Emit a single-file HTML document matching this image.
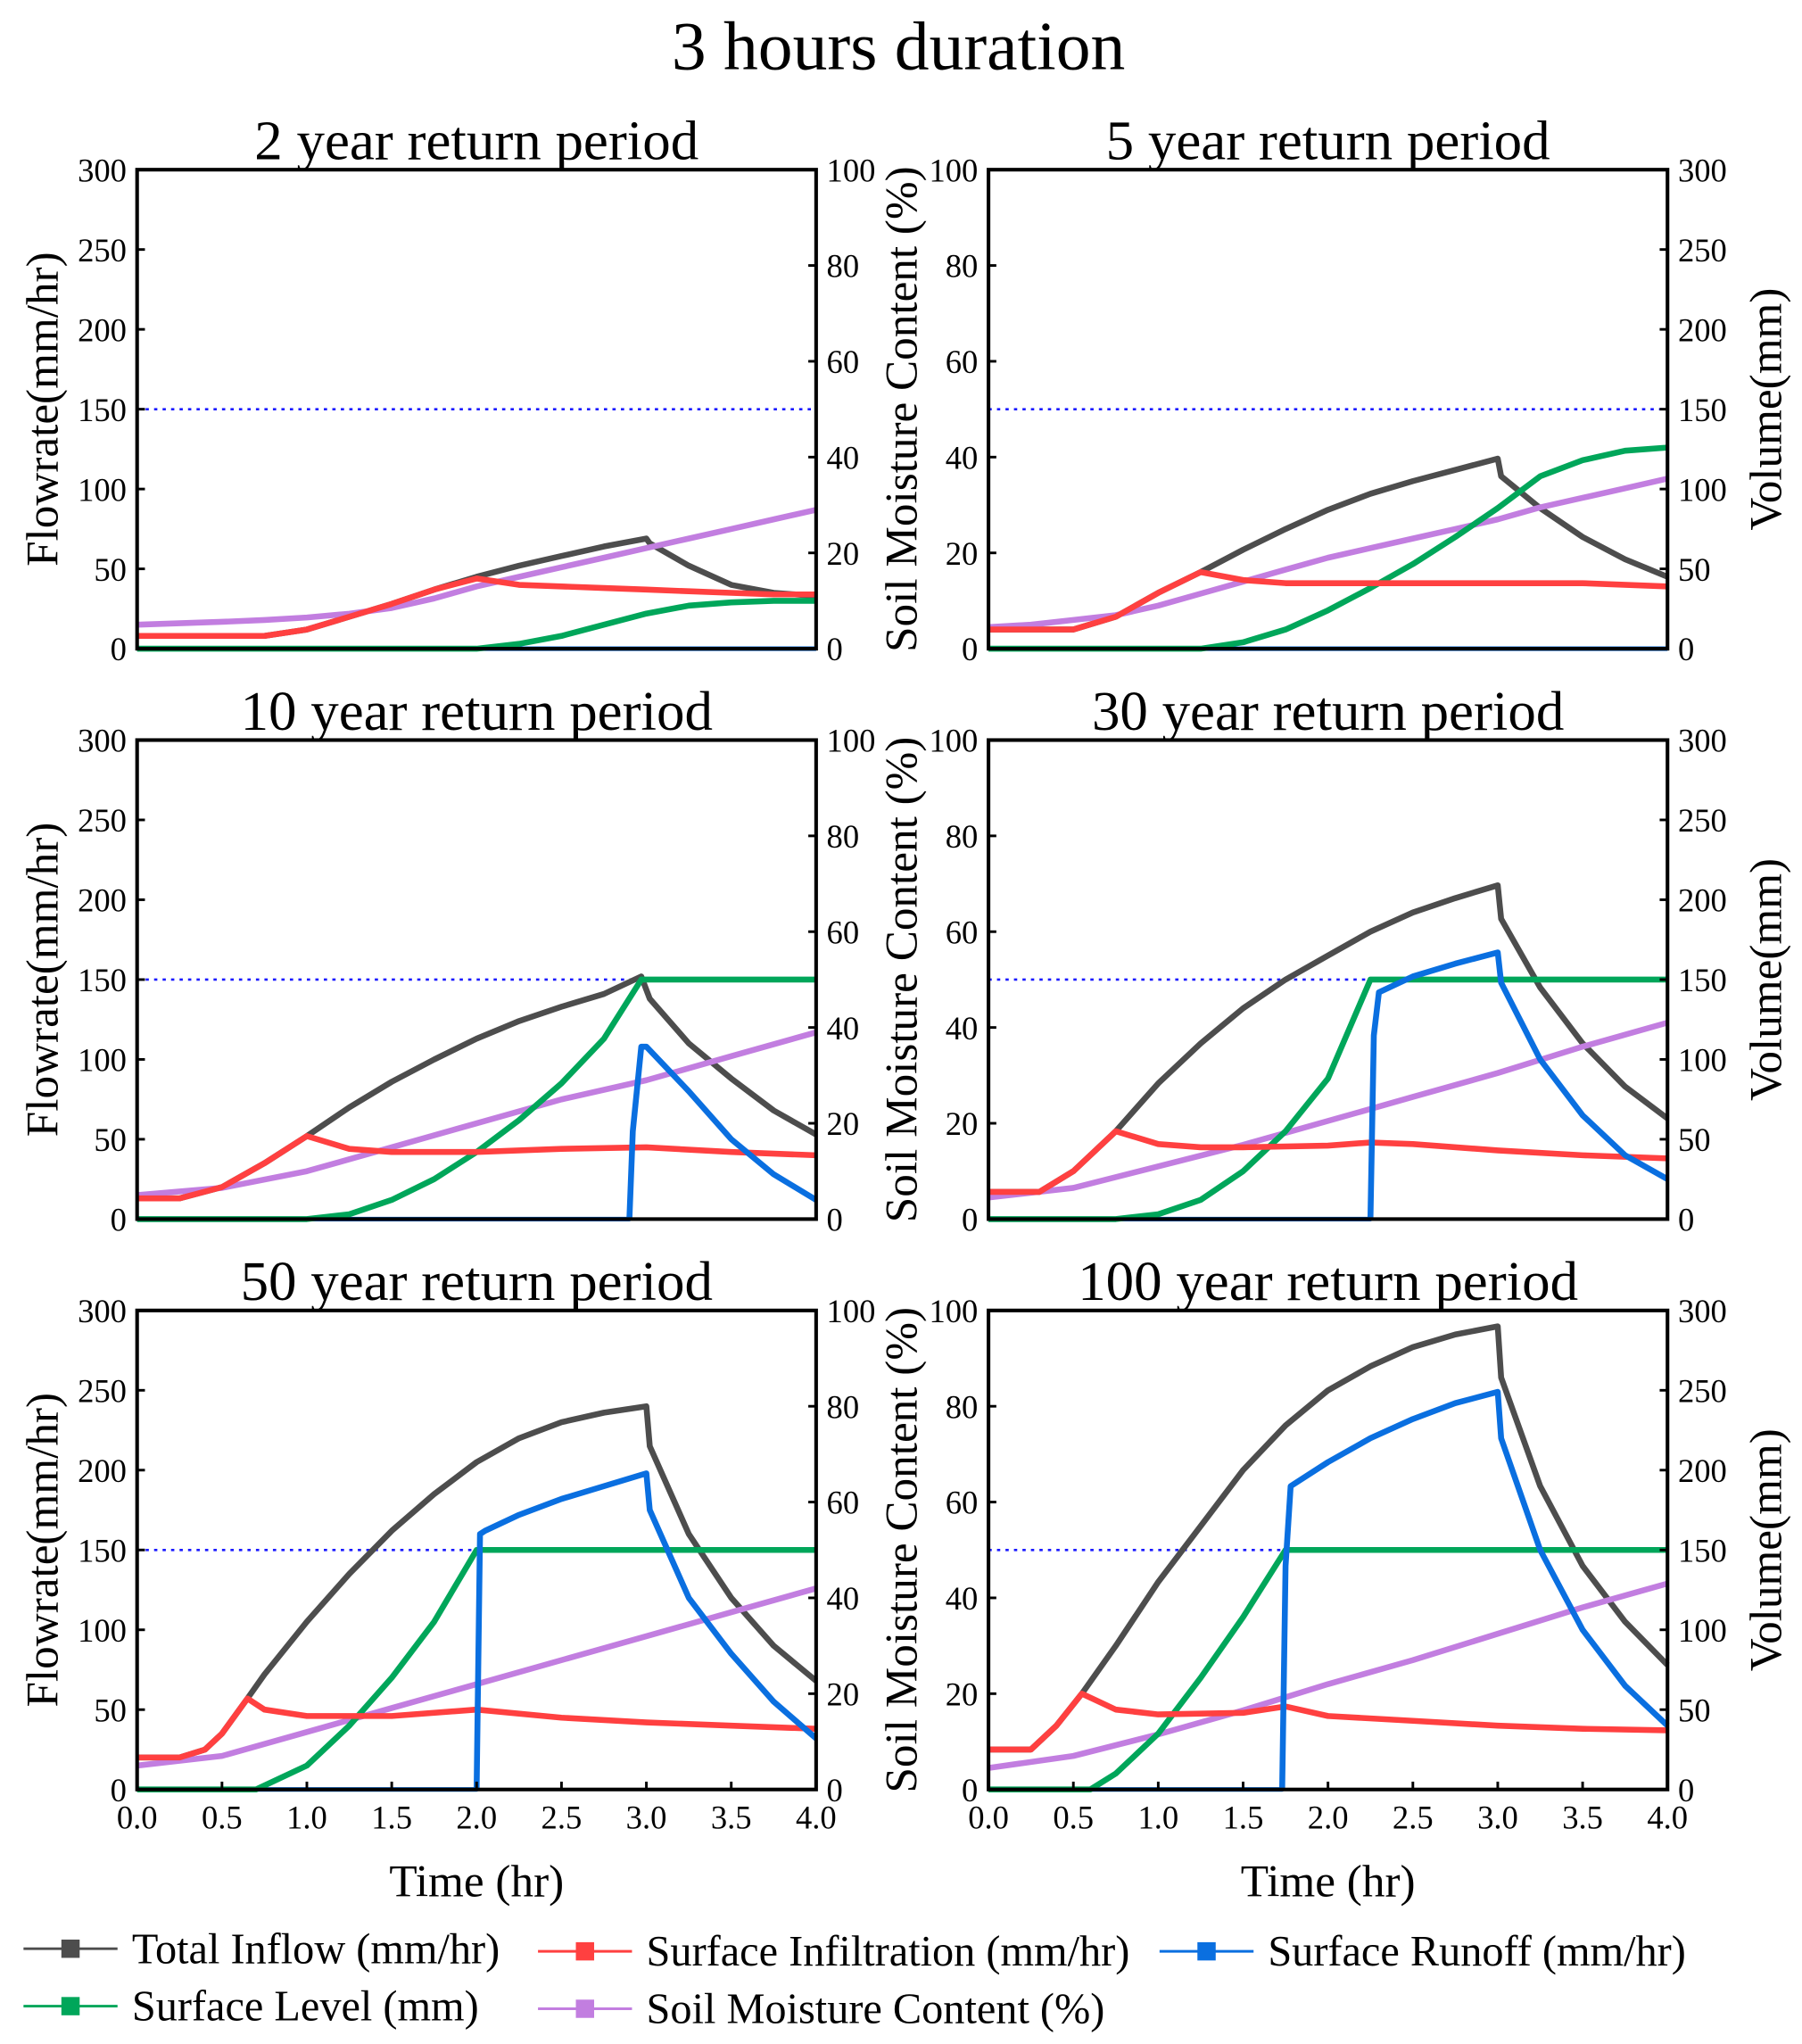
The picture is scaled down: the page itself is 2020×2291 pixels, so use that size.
<!DOCTYPE html>
<html><head><meta charset="utf-8"><style>
html,body{margin:0;padding:0;background:#fff}
svg{display:block}
text{font-family:"Liberation Serif","Times New Roman",serif;fill:#000}
</style></head><body>
<svg id="chart" width="2020" height="2291" viewBox="0 0 1380 1566" preserveAspectRatio="none" xmlns="http://www.w3.org/2000/svg">
<text x="688" y="53" font-size="53" text-anchor="middle">3 hours duration</text>
<g id="panels"></g>
<g id="legend"></g>
</svg>
<script>
// Panel titles
const titles = ["2 year return period","5 year return period","10 year return period","30 year return period","50 year return period","100 year return period"];
const xTicks = [0,0.5,1,1.5,2,2.5,3,3.5,4];
const flowTicks = [0,50,100,150,200,250,300];
const smTicks = [0,20,40,60,80,100];
const pondLimit = 150;

// Panel 1 (2 yr)
const p1_inflow_t = [0,0.25,0.5,0.75,1,1.25,1.5,1.75,2,2.25,2.5,2.75,3,3.02,3.25,3.5,3.75,4];
const p1_inflow_v = [8,8,8,8,12,20,28,37,45,52,58,64,69,66,52,40,35,33];
const p1_infil_t = [0,0.25,0.5,0.75,1,1.25,1.5,1.75,2,2.25,2.5,2.75,3,3.25,3.5,3.75,4];
const p1_infil_v = [8,8,8,8,12,20,28,37,44,40,39,38,37,36,35,34,34];
const p1_runoff_t = [0,4];
const p1_runoff_v = [0,0];
const p1_level_t = [0,2,2.25,2.5,2.75,3,3.25,3.5,3.75,4];
const p1_level_v = [0,0,3,8,15,22,27,29,30,30];
const p1_sm_t = [0,0.25,0.5,0.75,1,1.25,1.5,1.75,2,2.25,2.5,2.75,3,3.25,3.5,3.75,4];
const p1_sm_v = [5,5.3,5.6,6,6.5,7.3,8.5,10.5,13,15,17,19,21,23,25,27,29];

// Panel 2 (5 yr)
const p2_inflow_t = [0,0.5,0.75,1,1.25,1.5,1.75,2,2.25,2.5,2.75,3,3.02,3.25,3.5,3.75,4];
const p2_inflow_v = [12,12,20,35,48,62,75,87,97,105,112,119,108,88,70,56,45];
const p2_infil_t = [0,0.5,0.75,1,1.25,1.5,1.75,2,2.5,3,3.5,4];
const p2_infil_v = [12,12,20,35,48,43,41,41,41,41,41,39];
const p2_runoff_t = [0,4];
const p2_runoff_v = [0,0];
const p2_level_t = [0,1.25,1.5,1.75,2,2.25,2.5,2.75,3,3.25,3.5,3.75,4];
const p2_level_v = [0,0,4,12,24,38,53,70,88,108,118,124,126];
const p2_sm_t = [0,0.25,0.5,0.75,1,1.25,1.5,1.75,2,2.25,2.5,2.75,3,3.25,3.5,3.75,4];
const p2_sm_v = [4.5,5,6,7,9,11.5,14,16.5,19,21,23,25,27,29.5,31.5,33.5,35.5];

// Panel 3 (10 yr)
const p3_inflow_t = [0,0.25,0.5,0.75,1,1.25,1.5,1.75,2,2.25,2.5,2.75,2.97,3.02,3.25,3.5,3.75,4];
const p3_inflow_v = [13,13,20,35,52,70,86,100,113,124,133,141,152,138,110,88,68,53];
const p3_infil_t = [0,0.25,0.5,0.75,1,1.25,1.5,2,2.5,3,3.5,4];
const p3_infil_v = [13,13,20,35,52,44,42,42,44,45,42,40];
const p3_runoff_t = [0,2.9,2.92,2.97,3,3.25,3.5,3.75,4];
const p3_runoff_v = [0,0,55,108,108,80,50,28,12];
const p3_level_t = [0,1,1.25,1.5,1.75,2,2.25,2.5,2.75,2.97,4];
const p3_level_v = [0,0,3,12,25,42,62,85,113,150,150];
const p3_sm_t = [0,0.5,1,1.5,2,2.5,3,3.5,4];
const p3_sm_v = [5,6.5,10,15,20,25,29,34,39];

// Panel 4 (30 yr)
const p4_inflow_t = [0,0.3,0.5,0.75,1,1.25,1.5,1.75,2,2.25,2.5,2.75,3,3.02,3.25,3.5,3.75,4];
const p4_inflow_v = [17,17,30,55,85,110,132,150,165,180,192,201,209,188,145,110,83,63];
const p4_infil_t = [0,0.3,0.5,0.75,1,1.25,1.5,2,2.25,2.5,3,3.5,4];
const p4_infil_v = [17,17,30,55,47,45,45,46,48,47,43,40,38];
const p4_runoff_t = [0,2.25,2.27,2.3,2.5,2.75,3,3.02,3.25,3.5,3.75,4];
const p4_runoff_v = [0,0,115,142,152,160,167,148,100,65,40,25];
const p4_level_t = [0,0.75,1,1.25,1.5,1.75,2,2.25,4];
const p4_level_v = [0,0,3,12,30,55,88,150,150];
const p4_sm_t = [0,0.5,1,1.5,2,2.5,3,3.5,4];
const p4_sm_v = [4.5,6.5,11,15.5,20.5,25.5,30.5,36,41];

// Panel 5 (50 yr)
const p5_inflow_t = [0,0.25,0.4,0.5,0.65,0.75,1,1.25,1.5,1.75,2,2.25,2.5,2.75,3,3.02,3.25,3.5,3.75,4];
const p5_inflow_v = [20,20,25,35,57,72,105,135,162,185,205,220,230,236,240,215,160,120,90,68];
const p5_infil_t = [0,0.25,0.4,0.5,0.65,0.75,1,1.5,2,2.5,3,3.5,4];
const p5_infil_v = [20,20,25,35,57,50,46,46,50,45,42,40,38];
const p5_runoff_t = [0,2,2.02,2.05,2.25,2.5,2.75,3,3.02,3.25,3.5,3.75,4];
const p5_runoff_v = [0,0,160,162,172,182,190,198,175,120,85,55,32];
const p5_level_t = [0,0.7,1,1.25,1.5,1.75,2,4];
const p5_level_v = [0,0,15,40,70,105,150,150];
const p5_sm_t = [0,0.5,1,1.5,2,2.5,3,3.5,4];
const p5_sm_v = [5,7,12,17,22,27,32,37,42];

// Panel 6 (100 yr)
const p6_inflow_t = [0,0.25,0.4,0.55,0.75,1,1.25,1.5,1.75,2,2.25,2.5,2.75,3,3.02,3.25,3.5,3.75,4];
const p6_inflow_v = [25,25,40,60,90,130,165,200,228,250,265,277,285,290,258,190,140,105,78];
const p6_infil_t = [0,0.25,0.4,0.55,0.75,1,1.5,1.75,2,2.5,3,3.5,4];
const p6_infil_v = [25,25,40,60,50,47,48,52,46,43,40,38,37];
const p6_runoff_t = [0,1.73,1.75,1.78,2,2.25,2.5,2.75,3,3.02,3.25,3.5,3.75,4];
const p6_runoff_v = [0,0,140,190,205,220,232,242,249,220,150,100,65,40];
const p6_level_t = [0,0.6,0.75,1,1.25,1.5,1.75,4];
const p6_level_v = [0,0,10,35,70,108,150,150];
const p6_sm_t = [0,0.5,1,1.5,2,2.5,3,3.5,4];
const p6_sm_v = [4.5,7,11.5,16.5,22,27,32.5,38,43];

const NS = "http://www.w3.org/2000/svg";
const panelsG = document.getElementById('panels');
const colors = {inflow:"#4d4d4d", infil:"#ff4040", runoff:"#0a6fe0", level:"#00a65a", sm:"#c27ee0"};
const W = 520, H = 367;
const colX = [105, 757];
const rowY = [130, 567, 1004];

function mk(tag, attrs, parent){
  const e = document.createElementNS(NS, tag);
  for (const k in attrs) e.setAttribute(k, attrs[k]);
  parent.appendChild(e);
  return e;
}
function txt(s, x, y, size, anchor, parent){
  const t = mk('text', {x:x, y:y, 'font-size':size, 'text-anchor':anchor}, parent);
  t.textContent = s;
  return t;
}

const allData = [
 [p1_inflow_t,p1_inflow_v,p1_infil_t,p1_infil_v,p1_runoff_t,p1_runoff_v,p1_level_t,p1_level_v,p1_sm_t,p1_sm_v],
 [p2_inflow_t,p2_inflow_v,p2_infil_t,p2_infil_v,p2_runoff_t,p2_runoff_v,p2_level_t,p2_level_v,p2_sm_t,p2_sm_v],
 [p3_inflow_t,p3_inflow_v,p3_infil_t,p3_infil_v,p3_runoff_t,p3_runoff_v,p3_level_t,p3_level_v,p3_sm_t,p3_sm_v],
 [p4_inflow_t,p4_inflow_v,p4_infil_t,p4_infil_v,p4_runoff_t,p4_runoff_v,p4_level_t,p4_level_v,p4_sm_t,p4_sm_v],
 [p5_inflow_t,p5_inflow_v,p5_infil_t,p5_infil_v,p5_runoff_t,p5_runoff_v,p5_level_t,p5_level_v,p5_sm_t,p5_sm_v],
 [p6_inflow_t,p6_inflow_v,p6_infil_t,p6_infil_v,p6_runoff_t,p6_runoff_v,p6_level_t,p6_level_v,p6_sm_t,p6_sm_v]
];

for (let i=0;i<6;i++){
  const col = i%2, row = Math.floor(i/2);
  const x0 = colX[col], y0 = rowY[row];
  const g = mk('g', {}, panelsG);
  
  
  const xs = t => x0 + t/4*W;
  const yF = v => y0 + H - v/300*H;
  const yS = v => y0 + H - v/100*H;

  const pl = mk('line', {x1:x0, x2:x0+W, y1:yF(pondLimit), y2:yF(pondLimit), stroke:'#1a1aff', 'stroke-width':1.8, 'stroke-dasharray':'2.5,4'}, g);
  
  

  const d = allData[i];
  const series = [
    ['runoff', d[4], d[5], yF, 3.5],
    ['inflow', d[0], d[1], yF, 4.5],
    ['sm', d[8], d[9], yS, 4.5],
    ['level', d[6], d[7], yF, 4.5],
    ['infil', d[2], d[3], yF, 4.5]
  ];
  for (const [name, ts, vs, yf, sw] of series){
    let pts = ts.map((t,k)=> xs(t).toFixed(1)+','+yf(vs[k]).toFixed(1)).join(' ');
    const p = mk('polyline', {points:pts, fill:'none', stroke:colors[name], 'stroke-width':sw, 'stroke-linejoin':'round'}, g);
    
    
  }
  // runoff overlay (non-zero part drawn on top)
  {
    const ts = d[4], vs = d[5];
    const idx = vs.findIndex(v=>v>0);
    if (idx>0){
      const pts = ts.slice(idx-1).map((t,k)=> xs(t).toFixed(1)+','+yF(vs[idx-1+k]).toFixed(1)).join(' ');
      const p = mk('polyline', {points:pts, fill:'none', stroke:colors.runoff, 'stroke-width':4.5, 'stroke-linejoin':'round'}, g);
      
      
    }
  }
  const fr = mk('rect', {x:x0, y:y0, width:W, height:H, fill:'none', stroke:'#000', 'stroke-width':2.8}, g);
  
  

  const leftVals = col===0 ? flowTicks : smTicks;
  const rightVals = col===0 ? smTicks : flowTicks;
  const leftMax = col===0 ? 300 : 100, rightMax = col===0 ? 100 : 300;
  leftVals.forEach(v=>{
    const y = y0 + H - v/leftMax*H;
    mk('line', {x1:x0, x2:x0+6, y1:y, y2:y, stroke:'#000', 'stroke-width':2}, g);
    const t = txt(String(v), x0-8, y+9, 25, 'end', g);
    
    
  });
  rightVals.forEach(v=>{
    const y = y0 + H - v/rightMax*H;
    mk('line', {x1:x0+W-6, x2:x0+W, y1:y, y2:y, stroke:'#000', 'stroke-width':2}, g);
    const t = txt(String(v), x0+W+8, y+9, 25, 'start', g);
    
    
  });
  if (row===2){
    xTicks.forEach(v=>{
      const x = xs(v);
      mk('line', {x1:x, x2:x, y1:y0+H, y2:y0+H-6, stroke:'#000', 'stroke-width':2}, g);
      const t = txt(v.toFixed(1), x, y0+H+30, 25, 'middle', g);
      
      
    });
    const xt = txt('Time (hr)', x0+W/2, y0+H+82, 35, 'middle', g);
    
    
  }
  const tt = txt(titles[i], x0+W/2, y0-8, 43, 'middle', g);
  
  

  const cy = y0 + H/2;
  if (col===0){
    const a = txt('Flowrate(mm/hr)', 0, 0, 35, 'middle', g);
    a.setAttribute('transform', `translate(44,${cy}) rotate(-90)`);
    
    
    const b = txt('Soil Moisture Content (%)', 0, 0, 35, 'middle', g);
    b.setAttribute('transform', `translate(702,${cy}) rotate(-90)`);
    
    
  } else {
    const a = txt('Volume(mm)', 0, 0, 35, 'middle', g);
    a.setAttribute('transform', `translate(1364,${cy}) rotate(-90)`);
    
    
  }
}

const legendLabels = ["Total Inflow (mm/hr)","Surface Infiltration (mm/hr)","Surface Runoff (mm/hr)","Surface Level (mm)","Soil Moisture Content (%)"];
const legendKeys = ["inflow","infil","runoff","level","sm"];
const legendPos = [[18,1493],[412,1495],[888,1495],[18,1537],[412,1539]];
const lg = document.getElementById('legend');
legendLabels.forEach((lab,k)=>{
  const [x,y] = legendPos[k];
  const g = mk('g', {}, lg);
  
  
  mk('line', {x1:x, x2:x+72, y1:y, y2:y, stroke:colors[legendKeys[k]], 'stroke-width':2}, g);
  mk('rect', {x:x+29, y:y-7, width:14, height:14, fill:colors[legendKeys[k]]}, g);
  txt(lab, x+83, y+11, 33, 'start', g);
});
</script>
</body></html>
